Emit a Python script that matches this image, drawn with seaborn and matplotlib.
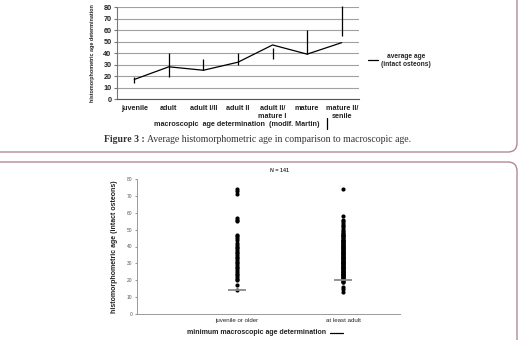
import matplotlib
matplotlib.use("Agg")
import matplotlib.pyplot as plt
from matplotlib.patches import FancyBboxPatch
from matplotlib.lines import Line2D
import seaborn as sns
import pandas as pd

# --- figure 3: average age per macroscopic stage
stages = ["juvenile", "adult", "adult I/II", "adult II", "adult II/\nmature I", "mature", "mature II/\nsenile"]
avg_age = [17, 28, 25, 32, 47, 39, 49]
range_low = [14, 19.5, 25.5, 29.5, 35, 39, 54.5]
range_high = [19.5, 40, 35, 40, 44.5, 60, 81]

# --- second figure: single values per minimum macroscopic age
juv_ages = [74, 73, 71, 57, 56, 55, 47, 46, 45, 44, 42, 41, 40, 39, 38, 37, 36, 35, 34,
            33, 32, 31, 30, 29, 28, 27, 26, 25, 24, 23, 22, 21, 20, 17, 14]
adult_ages = [74, 58, 56, 55, 54, 53, 52, 51, 50, 49, 48, 47, 46, 45, 44, 43, 42, 41, 40,
              39, 38, 37, 36, 35, 34, 33, 32, 31, 30, 29, 28, 27, 26, 25, 24, 23, 22, 21,
              20, 19, 16, 15, 13,
              48, 47, 46, 45, 44, 43, 42, 41, 40, 39, 38, 37, 36, 35, 34, 33, 32, 31, 30,
              29, 28, 27, 26, 25, 24, 23, 22, 21, 20, 19, 43, 42, 41, 40, 39, 38, 37, 36,
              35, 34, 33, 32, 31, 30, 29, 28, 27, 26, 25, 24, 23, 22, 21, 20, 30, 28, 25]
groups = ["juvenile or older", "at least adult"]
marker_age = [14, 20]

sns.set_style("white")
plt.rcParams["font.family"] = ["Liberation Sans", "DejaVu Sans"]

fig = plt.figure(figsize=(5.21, 3.40), dpi=100)

# background layer in pixel coordinates (boxes, caption)
bg = fig.add_axes([0, 0, 1, 1], zorder=-5)
bg.set_xlim(0, 521)
bg.set_ylim(340, 0)
bg.axis("off")
box_col = "#b08898"
for (y0, y1) in [(-30, 152), (162, 380)]:
    bg.add_patch(FancyBboxPatch((-20, y0), 537, y1 - y0,
                                boxstyle="round,pad=0,rounding_size=9",
                                fc="none", ec=box_col, lw=1.0))

# caption
r = fig.canvas.get_renderer()
t1 = bg.text(104, 140, "Figure 3 :", fontsize=7.0, fontweight="bold",
             family="Liberation Serif", color="#333333", va="center", ha="left")
bb = t1.get_window_extent(renderer=r)
bg.text(bb.x1 + 2.5, 140,
        "Average histomorphometric age in comparison to macroscopic age.",
        fontsize=7.0, family="Liberation Serif", color="#333333", va="center", ha="left")

# ---------- top chart
ax1 = fig.add_axes([117 / 521, 1 - 99 / 340, 242 / 521, 92 / 340])
df1 = pd.DataFrame({"stage": stages, "age": avg_age})
sns.lineplot(data=df1, x="stage", y="age", sort=False, color="black", lw=0.9, ax=ax1,
             label="average age\n(intact osteons)")
ax1.vlines(stages, range_low, range_high, color="black", lw=0.9, clip_on=False)
ax1.set_xlim(-0.5, 6.5)
ax1.set_ylim(0, 80)
ax1.set_yticks(range(0, 81, 10))
ax1.yaxis.grid(True, color="#a0a0a0", lw=0.8)
ax1.set_axisbelow(True)
for s in ["top", "right"]:
    ax1.spines[s].set_visible(False)
ax1.spines["left"].set_color("#777777")
ax1.spines["bottom"].set_color("#555555")
ax1.spines["left"].set_linewidth(0.8)
ax1.spines["bottom"].set_linewidth(0.8)
ax1.set_xticks([i + 0.5 for i in range(-1, 7)], minor=True)
ax1.tick_params(axis="x", which="major", length=0, pad=4, labelsize=5.2)
ax1.tick_params(axis="x", which="minor", length=2, color="#555555", direction="out")
ax1.tick_params(axis="y", length=2, color="#777777", pad=2, labelsize=5.2, left=True)
for lab in ax1.get_xticklabels() + ax1.get_yticklabels():
    lab.set_fontweight("bold")
    lab.set_color("#222222")
ax1.set_xlabel("")
ax1.set_ylabel("histomorphometric age determination", fontsize=3.9, fontweight="bold",
               labelpad=6, color="#222222")
leg = ax1.legend(loc="center left", bbox_to_anchor=(365 / 521, 1 - 60 / 340),
                 bbox_transform=fig.transFigure, frameon=False, fontsize=4.8,
                 handlelength=1.6, handletextpad=0.4, borderaxespad=0)
for txt in leg.get_texts():
    txt.set_fontweight("bold")
    txt.set_multialignment("center")
bg.text(237, 124, "macroscopic  age determination  (modif. Martin)", fontsize=5.2,
        fontweight="bold", ha="center", va="center", color="#222222")
bg.add_line(Line2D([327, 327], [118, 129], color="black", lw=0.9))

# ---------- bottom chart
ax2 = fig.add_axes([137 / 521, 1 - 314 / 340, 263 / 521, 135 / 340])
df2 = pd.DataFrame({"group": [groups[0]] * len(juv_ages) + [groups[1]] * len(adult_ages),
                    "age": juv_ages + adult_ages})
sns.stripplot(data=df2, x="group", y="age", order=groups, jitter=False, color="black",
              size=3.0, linewidth=0, ax=ax2)
ax2.hlines(marker_age, [-0.085, 0.915], [0.085, 1.085], color="#8a8a8a", lw=1.3, zorder=3)
ax2.set_xlim(-0.943, 1.538)
ax2.set_ylim(0, 80)
ax2.set_yticks(range(0, 81, 10))
for s in ["top", "right"]:
    ax2.spines[s].set_visible(False)
ax2.spines["left"].set_color("#999999")
ax2.spines["bottom"].set_color("#999999")
ax2.spines["left"].set_linewidth(0.7)
ax2.spines["bottom"].set_linewidth(0.7)
ax2.tick_params(axis="y", length=1.5, color="#999999", labelsize=3.5, labelcolor="#555555",
                pad=2, left=True)
ax2.tick_params(axis="x", length=0, labelsize=4.4, labelcolor="#222222", pad=3)
ax2.set_xlabel("")
ax2.set_ylabel("histomorphometric age (intact osteons)", fontsize=5.0, fontweight="bold",
               labelpad=6, color="#222222")
bg.text(280, 171, "N = 141", fontsize=3.8, fontweight="bold", ha="center", va="center",
        color="#333333")
bg.text(257, 332, "minimum macroscopic age determination", fontsize=5.0, fontweight="bold",
        ha="center", va="center", color="#222222")
bg.add_line(Line2D([330, 343], [332.5, 332.5], color="black", lw=0.9))

fig.savefig("out.png", dpi=100)
